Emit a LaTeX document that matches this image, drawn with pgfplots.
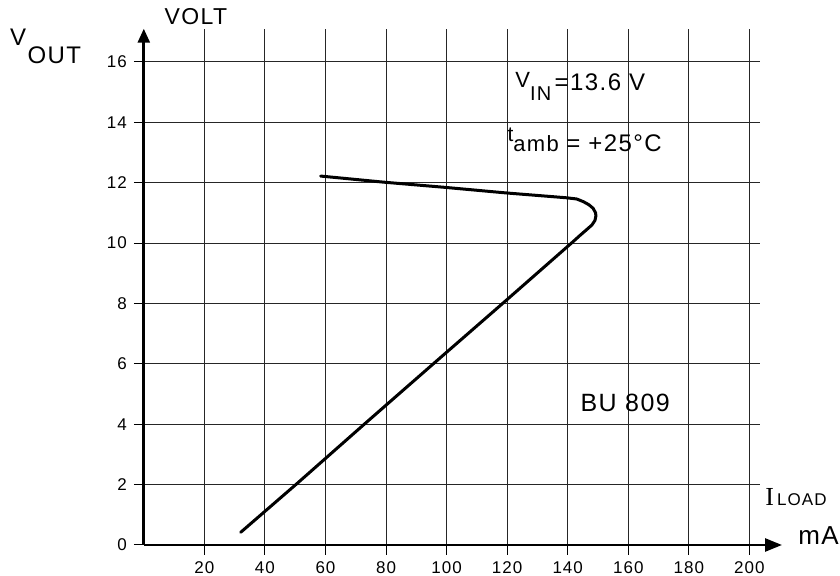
\documentclass[border=0pt]{standalone}
\usepackage{fontspec}
\setmainfont{Liberation Sans}[LetterSpace=6]
\newfontfamily\serifI{Liberation Serif}
\usepackage{pgfplots}
\pgfplotsset{compat=1.18}
\usetikzlibrary{arrows.meta}
\begin{document}
\begin{tikzpicture}
\path[use as bounding box] (-71.9pt,-15.5pt) rectangle (348.1pt,272.5pt);
\begin{axis}[
  at={(0,0)}, anchor=origin,
  x=1.514pt, y=15.095pt,
  xmin=0, xmax=203.5, ymin=0, ymax=17.1,
  axis lines=left,
  axis line style={line width=1.3pt, black},
  x axis line style={-{Triangle[length=8.5pt,width=6.5pt]}, shorten >=-11pt},
  y axis line style={-{Triangle[length=7pt,width=6pt]}},
  xtick={20,40,...,200}, ytick={0,2,...,16},
  grid=major, grid style={line width=0.5pt, black!85},
  tick align=outside, major tick length=5pt,
  tick style={line width=0.5pt, black},
  ticklabel style={font=\fontsize{8.5}{10}\selectfont},
  /pgf/number format/assume math mode=true,
  clip=false,
]
\addplot[black, line width=1.5pt, line join=round, line cap=round] coordinates {
  (32.0,0.42) (50.2,2.0) (72.8,4.0) (95.6,6.0) (118.5,8.0)
  (141.8,10.05) (144.0,10.25) (146.3,10.45) (148.0,10.6) (149.0,10.75)
  (149.3,10.9) (149.2,11.0) (148.4,11.15) (147.0,11.27) (145.2,11.37)
  (143.0,11.46) (139.7,11.5) (119.8,11.66)
  (99,11.85) (79,12.02) (58.4,12.22)
};
\node[anchor=center, inner sep=0pt, font=\fontsize{11.5}{12}\selectfont] at (axis cs:17.2,17.49) {VOLT};
\node[anchor=base, inner sep=0pt, font=\fontsize{12}{12}\selectfont] at (axis cs:-41.5,16.55) {V};
\node[anchor=base west, inner sep=0pt, font=\fontsize{12}{14}\selectfont] at (axis cs:-38.5,15.94) {OUT};
\node[anchor=base west, inner sep=0pt] at (axis cs:122.6,15.07)
  {\fontsize{11}{11}\selectfont\raisebox{1.5pt}{V}\fontsize{10}{11}\selectfont\raisebox{-5pt}{IN}\,\fontsize{12}{14}\selectfont =13.6 V};
\node[anchor=base west, inner sep=0pt] at (axis cs:120.0,13.02)
  {\fontsize{10.5}{11}\selectfont\raisebox{5pt}{t}\fontsize{11}{12}\selectfont amb\ \fontsize{12}{14}\selectfont = +25°C};
\node[anchor=base west, inner sep=0pt, font=\fontsize{12.5}{14}\selectfont] at (axis cs:144.1,4.41) {BU 809};
\node[anchor=base west, inner sep=0pt] at (axis cs:205.1,1.32)
  {{\serifI\fontsize{13}{14}\selectfont I}\,\fontsize{8.5}{10}\selectfont LOAD};
\node[anchor=base west, inner sep=0pt, font=\fontsize{13}{14}\selectfont] at (axis cs:216,0.0) {mA};
\end{axis}
\end{tikzpicture}
\end{document}
